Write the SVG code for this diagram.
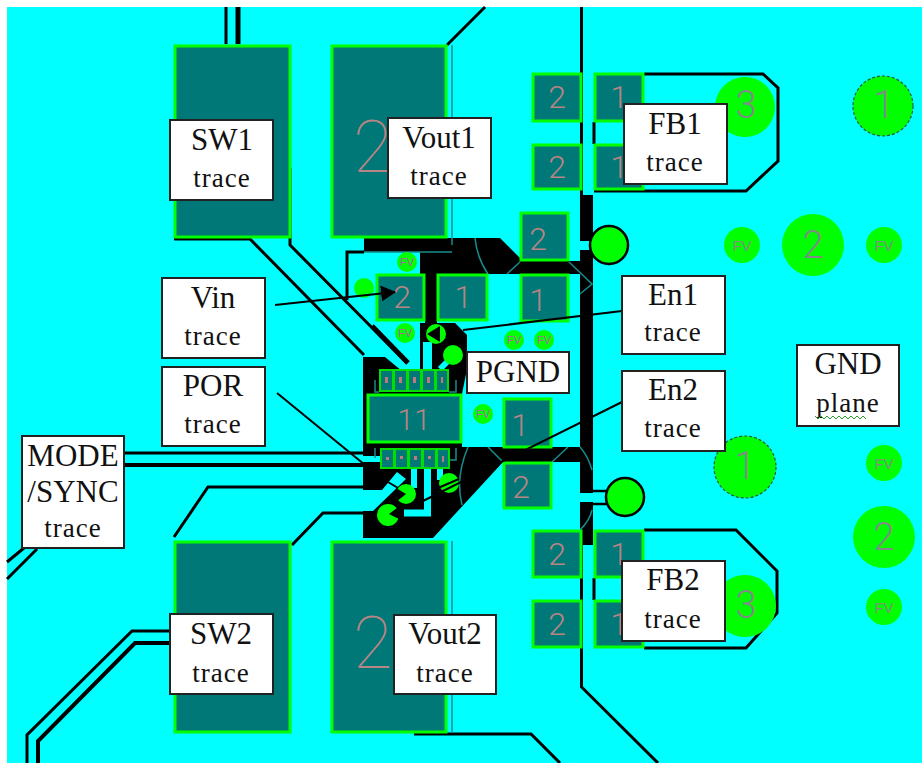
<svg xmlns="http://www.w3.org/2000/svg" width="922" height="763" viewBox="0 0 922 763">
<style>
.pad{fill:#007878;stroke:#00ff00;stroke-width:3}
.d{font-family:Roboto,"Liberation Sans",sans-serif;font-weight:300;fill:#b88484;text-anchor:middle;font-size:32px}
.dl{font-weight:100;font-size:72px}
.bd{font-family:Roboto,"Liberation Sans",sans-serif;font-weight:300;fill:#808a88;text-anchor:middle;font-size:38px}
.g{fill:#00ff00}
.gk{fill:#00ff00;stroke:#000;stroke-width:2.5}
.dash{fill:#00ff00;stroke:#1c5c3c;stroke-width:1.200;stroke-dasharray:3 2}
.fv{font-family:"Liberation Sans",Arial,sans-serif;fill:#808c80;text-anchor:middle;font-size:15px}
.sv{font-family:"Liberation Sans",Arial,sans-serif;fill:#b060b0;text-anchor:middle;font-size:11px}
.k{fill:#000}
.t{fill:none;stroke:#000;stroke-width:3}
.c{fill:none;stroke:#00ffff}
.h{fill:none;stroke:#178c8c;stroke-width:1.5}
.box{fill:#fff;stroke:#222;stroke-width:2}
.l{font-family:"Liberation Serif","Times New Roman",serif;fill:#111;text-anchor:middle;font-size:31px}
.l2{font-family:"Liberation Serif","Times New Roman",serif;fill:#111;text-anchor:middle;font-size:27px;letter-spacing:1px}
.pin{fill:#007878;stroke:#00e000;stroke-width:2}
.m{fill:#c07878}
.lead{fill:none;stroke:#000;stroke-width:2}
</style>
<defs>
<marker id="arr" markerUnits="userSpaceOnUse" markerWidth="16" markerHeight="16" refX="14" refY="8" orient="auto"><path d="M0 0L15 8L0 16z" fill="#000"/></marker>
</defs>
<rect x="0" y="0" width="922" height="763" fill="#fff"/>
<rect x="7" y="7" width="915" height="756" fill="#00ffff"/>

<g id="copper">
<path class="k" d="M363 357H385L408 376H420V369H467L462 394V447H503V462L433 538H363Z"/>
<path class="k" d="M420 323H455L467 335V372H420Z"/>
<path class="k" d="M425 274H437V324H425Z"/>
<path class="k" d="M364 238H500L520 258V274H420V252H364Z"/>
<rect class="k" x="520" y="261" width="73" height="13"/>
<rect class="k" x="503" y="447" width="90" height="15"/>
<rect class="k" x="580" y="195" width="13" height="350"/>
<path d="M569 241H596V250H569Z" fill="#00ffff"/>
<path d="M580 493H610V502H580Z" fill="#00ffff"/>
</g>

<g id="connectors">
<path class="t" d="M226 7V44"/>
<path class="t" style="stroke-width:5" d="M238 7V44"/>
<path class="t" d="M447 45L485 7"/>
<path class="t" d="M581.500 7V195"/>
<path class="t" d="M290 168V245L407 363"/>
<path class="t" d="M174 239H250L364 355"/>
<path class="t" style="stroke-width:5" d="M372 326L408 363"/>
<path class="t" d="M364 252H347V300"/>
<path class="t" d="M644 74H763L778 88V161L746 191H594M594 122V144"/>
<path class="t" d="M644 530H736L777 571V613L746 648H644M594 578V600"/>
<path class="t" d="M581.500 545V687L658 763"/>
<path class="t" d="M414 734H531L560 763"/>
<path class="t" style="stroke-width:3" d="M124 453H363"/>
<path class="t" style="stroke-width:4" d="M124 465H363"/>
<path class="t" d="M7 562L24 548"/>
<path class="t" d="M7 579L37 549"/>
<path class="t" d="M174 537L208 487H363"/>
<path class="t" d="M292 545L323 513H363"/>
<path class="t" d="M170 631H132L27 735V763"/>
<path class="t" style="stroke-width:4" d="M170 643H135L38 741V763"/>
<path class="t" style="stroke-width:2.500" d="M593 491H607M593 504H607"/>
<path fill="#00ffff" d="M363 456H382V462H363Z"/>
<path fill="#00ffff" d="M363 490H382L397 472L406 479L373 511H363Z"/>
<path class="c" style="stroke-width:6" d="M414 469V488"/>
<path class="c" style="stroke-width:7" d="M427.500 469V513H404"/>
<path class="c" style="stroke-width:6" d="M440 469V480"/>
<path class="c" style="stroke-width:9" d="M427.500 369V342"/>
<path class="c" style="stroke-width:6" d="M440 369L452 357"/>
<path class="c" style="stroke-width:8" d="M384 369V392"/>
<path class="t" style="stroke-width:2" d="M388 482L398 488"/>
<path class="h" d="M475 238Q477 258 488 274M507 274L520 262M569 262L592 284L580 294M452 45V245M468 447Q455 478 462 505M488 447L503 462M552 462L568 447M580 447Q588 456 592 470M592 510Q590 520 580 530M452 541V733M364 252H452"/>
<path class="h" d="M375 380V392H379M456 380V392H449M375 448V458M456 448V460H449"/>
</g>

<g id="pad-sw1"><rect class="pad" x="175" y="46" width="115" height="191"/></g>
<g id="pad-vout1"><rect class="pad" x="332" y="46" width="114" height="191"/><text class="d dl" x="373" y="172">2</text></g>
<g id="pad-sw2"><rect class="pad" x="175" y="542" width="115" height="190"/></g>
<g id="pad-vout2"><rect class="pad" x="332" y="542" width="114" height="190"/><text class="d dl" x="373" y="668">2</text></g>

<g id="pad-tl1"><rect class="pad" x="533" y="74" width="48" height="47"/><text class="d" x="557" y="108">2</text></g>
<g id="pad-tr1"><rect class="pad" x="595" y="74" width="48" height="47"/><text class="d" x="619" y="108">1</text></g>
<g id="pad-tl2"><rect class="pad" x="533" y="145" width="48" height="44"/><text class="d" x="557" y="178">2</text></g>
<g id="pad-tr2"><rect class="pad" x="595" y="145" width="48" height="44"/><text class="d" x="619" y="178">1</text></g>
<g id="pad-m1"><rect class="pad" x="521" y="213" width="47" height="47"/><text class="d" x="538" y="250">2</text></g>
<g id="pad-m2"><rect class="pad" x="521" y="275" width="47" height="46"/><text class="d" x="538" y="311">1</text></g>
<g id="pad-vin"><rect class="pad" x="377" y="275" width="47" height="45"/><text class="d" x="402" y="308">2</text></g>
<g id="pad-c1"><rect class="pad" x="438" y="275" width="49" height="45"/><text class="d" x="463" y="308">1</text></g>
<g id="pad-e1"><rect class="pad" x="504" y="399" width="47" height="48"/><text class="d" x="520" y="436">1</text></g>
<g id="pad-e2"><rect class="pad" x="504" y="463" width="47" height="45"/><text class="d" x="521" y="498">2</text></g>
<g id="pad-bl1"><rect class="pad" x="533" y="531" width="48" height="46"/><text class="d" x="557" y="565">2</text></g>
<g id="pad-br1"><rect class="pad" x="595" y="531" width="48" height="46"/><text class="d" x="619" y="565">1</text></g>
<g id="pad-bl2"><rect class="pad" x="533" y="601" width="48" height="46"/><text class="d" x="557" y="635">2</text></g>
<g id="pad-br2"><rect class="pad" x="595" y="601" width="48" height="46"/><text class="d" x="619" y="635">1</text></g>

<g id="ic">
<rect class="pad" x="368" y="395" width="93" height="47"/>
<text class="d" x="414" y="430" style="font-size:30px">11</text>
<rect class="pin" x="380" y="370" width="13" height="21"/><rect class="pin" x="394" y="370" width="13" height="21"/><rect class="pin" x="408" y="370" width="13" height="21"/><rect class="pin" x="422" y="370" width="13" height="21"/><rect class="pin" x="436" y="370" width="12" height="21"/>
<rect class="pin" x="381" y="449" width="13" height="19"/><rect class="pin" x="395" y="449" width="13" height="19"/><rect class="pin" x="409" y="449" width="13" height="19"/><rect class="pin" x="423" y="449" width="13" height="19"/><rect class="pin" x="437" y="449" width="12" height="19"/>
<path class="m" d="M385 377h3v6h-3zM399 377h3v6h-3zM413 377h3v6h-3zM427 377h3v6h-3zM441 377h2v6h-2zM386 457h3v3h-3zM400 456h3v3h-3zM414 456h3v4h-3zM428 456h3v3h-3zM442 456h2v6h-2z"/>
</g>

<g id="circle-3a"><circle class="g" cx="745" cy="107" r="30"/><text class="bd" x="746" y="118">3</text></g>
<g id="circle-1a"><circle class="dash" cx="883" cy="106" r="30"/><text class="bd" x="884" y="118">1</text></g>
<g id="via-fv1"><circle class="g" cx="742" cy="245" r="18"/><text class="fv" x="742" y="251">FV</text></g>
<g id="circle-2a"><circle class="g" cx="813" cy="245" r="31"/><text class="bd" x="813" y="258">2</text></g>
<g id="via-fv2"><circle class="g" cx="884" cy="245" r="18"/><text class="fv" x="884" y="251">FV</text></g>
<g id="via-a"><circle class="gk" cx="609" cy="245" r="19"/></g>
<g id="circle-1b"><circle class="dash" cx="745" cy="467" r="31"/><text class="bd" x="745" y="479">1</text></g>
<g id="via-fv3"><circle class="g" cx="884" cy="463" r="18"/><text class="fv" x="884" y="469">FV</text></g>
<g id="circle-2b"><circle class="g" cx="884" cy="537" r="31"/><text class="bd" x="884" y="550">2</text></g>
<g id="via-fv4"><circle class="g" cx="884" cy="607" r="18"/><text class="fv" x="884" y="613">FV</text></g>
<g id="circle-3b"><circle class="g" cx="745" cy="606" r="31"/><text class="bd" x="746" y="618">3</text></g>
<g id="via-b"><circle class="gk" cx="625" cy="497" r="19"/></g>

<g id="via-s1"><circle class="g" cx="407" cy="262" r="10"/><text class="sv" x="407" y="266">FV</text></g>
<g id="via-s2"><circle class="g" cx="364" cy="288" r="10"/></g>
<g id="via-s3"><circle class="g" cx="405" cy="333" r="10"/><text class="sv" x="405" y="337">FV</text></g>
<g id="via-s4"><circle class="g" cx="514" cy="340" r="10"/><text class="sv" x="514" y="344">FV</text></g>
<g id="via-s5"><circle class="g" cx="544" cy="340" r="10"/><text class="sv" x="544" y="344">FV</text></g>
<g id="via-s6"><circle class="g" cx="483" cy="414" r="10"/><text class="sv" x="483" y="418">FV</text></g>
<g id="via-s7"><circle class="g" cx="453" cy="355" r="10"/></g>
<g id="via-s8"><circle class="g" cx="436" cy="334" r="10"/><path class="k" d="M427 334L440 326V342Z"/></g>
<g id="via-s9"><circle class="g" cx="406" cy="494" r="10"/><path class="k" d="M396 488L406 494L396 502Z"/></g>
<g id="via-s10"><circle class="g" cx="449" cy="483" r="10"/><path class="t" style="stroke-width:2" d="M438 488L459 479"/></g>
<g id="via-s11"><circle class="g" cx="388" cy="515" r="11"/><path class="k" d="M389 514L401 505V520Z"/></g>

<g id="leaders">
<path class="lead" marker-end="url(#arr)" d="M275 305L395 292"/>
<path class="lead" d="M277 393L365 465"/>
<path class="lead" d="M622 311L463 330"/>
<path class="lead" d="M622 402L423 501"/>
</g>

<g id="label-sw1"><rect class="box" x="170" y="120" width="103" height="80"/><text class="l" x="222" y="150">SW1</text><text class="l2" x="222" y="187">trace</text></g>
<g id="label-vout1"><rect class="box" x="388" y="118" width="103" height="80"/><text class="l" x="439" y="148">Vout1</text><text class="l2" x="439" y="185">trace</text></g>
<g id="label-fb1"><rect class="box" x="624" y="104" width="103" height="80"/><text class="l" x="675" y="134">FB1</text><text class="l2" x="675" y="171">trace</text></g>
<g id="label-vin"><rect class="box" x="162" y="278" width="103" height="80"/><text class="l" x="213" y="308">Vin</text><text class="l2" x="213" y="345">trace</text></g>
<g id="label-en1"><rect class="box" x="622" y="276" width="103" height="78"/><text class="l" x="673" y="305">En1</text><text class="l2" x="673" y="341">trace</text></g>
<g id="label-pgnd"><rect class="box" x="467" y="352" width="102" height="41"/><text class="l" x="518" y="382">PGND</text></g>
<g id="label-en2"><rect class="box" x="622" y="371" width="103" height="80"/><text class="l" x="673" y="400">En2</text><text class="l2" x="673" y="437">trace</text></g>
<g id="label-por"><rect class="box" x="162" y="367" width="103" height="79"/><text class="l" x="213" y="396">POR</text><text class="l2" x="213" y="433">trace</text></g>
<g id="label-gnd"><rect class="box" x="797" y="345" width="102" height="81"/><text class="l" x="848" y="374">GND</text><text class="l2" x="848" y="412">plane</text><path d="M815 416l3 3l3-3l3 3l3-3l3 3l3-3l3 3l3-3l3 3l3-3l3 3l3-3l3 3l3-3l3 3l3-3l3 3" fill="none" stroke="#2ca02c" stroke-width="1"/></g>
<g id="label-mode"><rect class="box" x="22" y="436" width="102" height="112"/><text class="l" x="73" y="466">MODE</text><text class="l" x="73" y="502">/SYNC</text><text class="l2" x="73" y="537">trace</text></g>
<g id="label-fb2"><rect class="box" x="622" y="561" width="103" height="80"/><text class="l" x="673" y="590">FB2</text><text class="l2" x="673" y="628">trace</text></g>
<g id="label-sw2"><rect class="box" x="170" y="614" width="103" height="80"/><text class="l" x="221" y="644">SW2</text><text class="l2" x="221" y="682">trace</text></g>
<g id="label-vout2"><rect class="box" x="394" y="615" width="102" height="79"/><text class="l" x="445" y="644">Vout2</text><text class="l2" x="445" y="682">trace</text></g>
</svg>
